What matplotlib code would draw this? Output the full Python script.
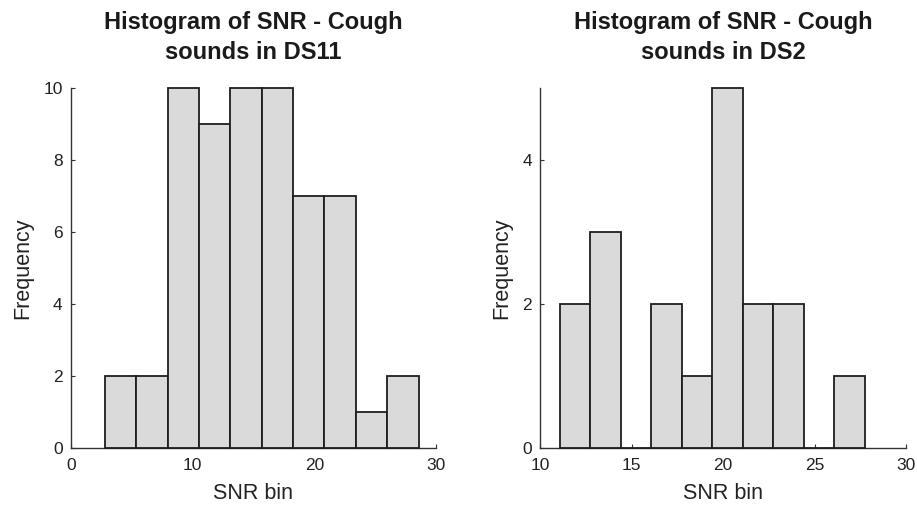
import numpy as np
import matplotlib.pyplot as plt

plt.rcParams['font.family'] = ['Liberation Sans', 'DejaVu Sans']

# DS11 histogram
ds11_lo, ds11_hi = 2.8, 28.57
ds11_counts = [2, 2, 10, 9, 10, 10, 7, 7, 1, 2]

# DS2 histogram
ds2_lo, ds2_hi = 11.06, 27.74
ds2_counts = [2, 3, 0, 2, 1, 5, 2, 2, 0, 1]

titles = ['Histogram of SNR - Cough\nsounds in DS11',
          'Histogram of SNR - Cough\nsounds in DS2']
xlims = [(0, 30), (10, 30)]
ylims = [(0, 10), (0, 5)]
xticks = [[0, 10, 20, 30], [10, 15, 20, 25, 30]]
yticks = [[0, 2, 4, 6, 8, 10], [0, 2, 4]]

fig = plt.figure(figsize=(9.17, 5.08), dpi=100)
ax1 = fig.add_axes([0.0774, 0.118, 0.398, 0.709])
ax2 = fig.add_axes([0.589, 0.118, 0.399, 0.709])

data = [(ds11_lo, ds11_hi, ds11_counts), (ds2_lo, ds2_hi, ds2_counts)]
for i, ax in enumerate([ax1, ax2]):
    lo, hi, counts = data[i]
    edges = np.linspace(lo, hi, len(counts) + 1)
    ax.bar(edges[:-1], counts, width=np.diff(edges), align='edge',
           color='#dadada', edgecolor='#1e1e1e', linewidth=1.3, zorder=3,
           clip_on=False)
    ax.set_xlim(*xlims[i])
    ax.set_ylim(*ylims[i])
    ax.set_xticks(xticks[i])
    ax.set_yticks(yticks[i])
    for s in ['top', 'right']:
        ax.spines[s].set_visible(False)
    for s in ['left', 'bottom']:
        ax.spines[s].set_color('#333333')
        ax.spines[s].set_linewidth(1.0)
    ax.tick_params(direction='in', length=3, labelsize=12.5, colors='#333333',
                   labelcolor='#222222')
    ax.tick_params(axis='x', pad=7)
    ax.tick_params(axis='y', pad=6)
    ax.set_xlabel('SNR bin', fontsize=15.5, color='#222222', labelpad=7)
    ax.set_ylabel('Frequency', fontsize=15.5, color='#222222', labelpad=7)
    ax.set_title(titles[i], fontsize=17, fontweight='bold', color='#1a1a1a',
                 pad=21, linespacing=1.35)

fig.savefig('out.png', dpi=100)
